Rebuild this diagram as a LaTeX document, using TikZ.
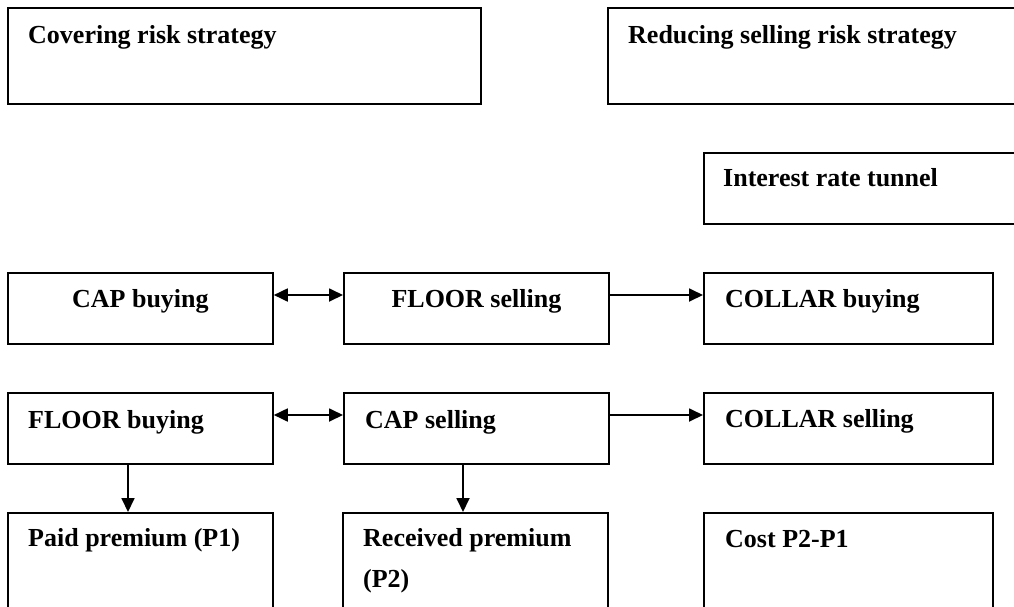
\documentclass[tikz,border=0pt]{standalone}
\usepackage{fontspec}
\setmainfont{Liberation Serif}
\usetikzlibrary{arrows.meta,calc}
\begin{document}
\begin{tikzpicture}[x=1pt,y=-1pt,
  box/.style={draw, line width=1.8pt, rectangle, anchor=north west, inner sep=0pt},
  lbl/.style={font=\fontsize{26}{41}\selectfont\bfseries, anchor=base west, inner sep=0pt, align=left},
  clbl/.style={font=\fontsize{26}{41}\selectfont\bfseries, anchor=base, inner sep=0pt},
  arr/.style={line width=1.8pt, -{Triangle[length=14pt,width=13pt]}},
  darr/.style={line width=1.8pt, {Triangle[length=14pt,width=13pt]}-{Triangle[length=14pt,width=13pt]}}]
\useasboundingbox (0,0) rectangle (1014,606);
\clip (0,0) rectangle (1014,606);
% boxes
\node[box, minimum width=473pt, minimum height=96pt] (cover) at (7,7) {};
\node[box, minimum width=430pt, minimum height=96pt] (reduce) at (607,7) {};
\node[box, minimum width=330pt, minimum height=71pt] (tunnel) at (703,152) {};
\node[box, minimum width=265pt, minimum height=71pt] (capbuy) at (7,272) {};
\node[box, minimum width=265pt, minimum height=71pt] (floorsell) at (343,272) {};
\node[box, minimum width=289pt, minimum height=71pt] (collarbuy) at (703,272) {};
\node[box, minimum width=265pt, minimum height=71pt] (floorbuy) at (7,392) {};
\node[box, minimum width=265pt, minimum height=71pt] (capsell) at (343,392) {};
\node[box, minimum width=289pt, minimum height=71pt] (collarsell) at (703,392) {};
\node[box, minimum width=265pt, minimum height=130pt] (paid) at (7,512) {};
\node[box, minimum width=265pt, minimum height=130pt] (received) at (342,512) {};
\node[box, minimum width=289pt, minimum height=130pt] (cost) at (703,512) {};
% labels
\node[lbl] (tcover) at ([xshift=21pt,yshift=-36pt]cover.north west) {Covering risk strategy};
\node[lbl] (treduce) at ([xshift=21pt,yshift=-36pt]reduce.north west) {Reducing selling risk strategy};
\node[lbl] (ttunnel) at ([xshift=20pt,yshift=-34pt]tunnel.north west) {Interest rate tunnel};
\node[clbl] (tcapbuy) at ([yshift=-35pt]capbuy.north) {CAP buying};
\node[clbl] (tfloorsell) at ([yshift=-35pt]floorsell.north) {FLOOR selling};
\node[lbl] (tcollarbuy) at ([xshift=22pt,yshift=-35pt]collarbuy.north west) {COLLAR buying};
\node[lbl] (tfloorbuy) at ([xshift=21pt,yshift=-36pt]floorbuy.north west) {FLOOR buying};
\node[lbl] (tcapsell) at ([xshift=22pt,yshift=-36pt]capsell.north west) {CAP selling};
\node[lbl] (tcollarsell) at ([xshift=22pt,yshift=-35pt]collarsell.north west) {COLLAR selling};
\node[lbl] (tpaid) at ([xshift=21pt,yshift=-34pt]paid.north west) {Paid premium (P1)};
\node[lbl] (treceived) at ([xshift=21pt,yshift=-75pt]received.north west) {Received premium\\(P2)};
\node[lbl] (tcost) at ([xshift=22pt,yshift=-35pt]cost.north west) {Cost P2-P1};
% connectors
\draw[darr] ([yshift=-23pt]capbuy.north east) -- ([yshift=-23pt]floorsell.north west);
\draw[arr] ([yshift=-23pt]floorsell.north east) -- ([yshift=-23pt]collarbuy.north west);
\draw[darr] ([yshift=-23pt]floorbuy.north east) -- ([yshift=-23pt]capsell.north west);
\draw[arr] ([yshift=-23pt]capsell.north east) -- ([yshift=-23pt]collarsell.north west);
\draw[arr] ([xshift=121pt]floorbuy.south west) -- ([xshift=121pt]floorbuy.south west |- paid.north);
\draw[arr] ([xshift=120pt]capsell.south west) -- ([xshift=120pt]capsell.south west |- received.north);
\end{tikzpicture}
\end{document}
